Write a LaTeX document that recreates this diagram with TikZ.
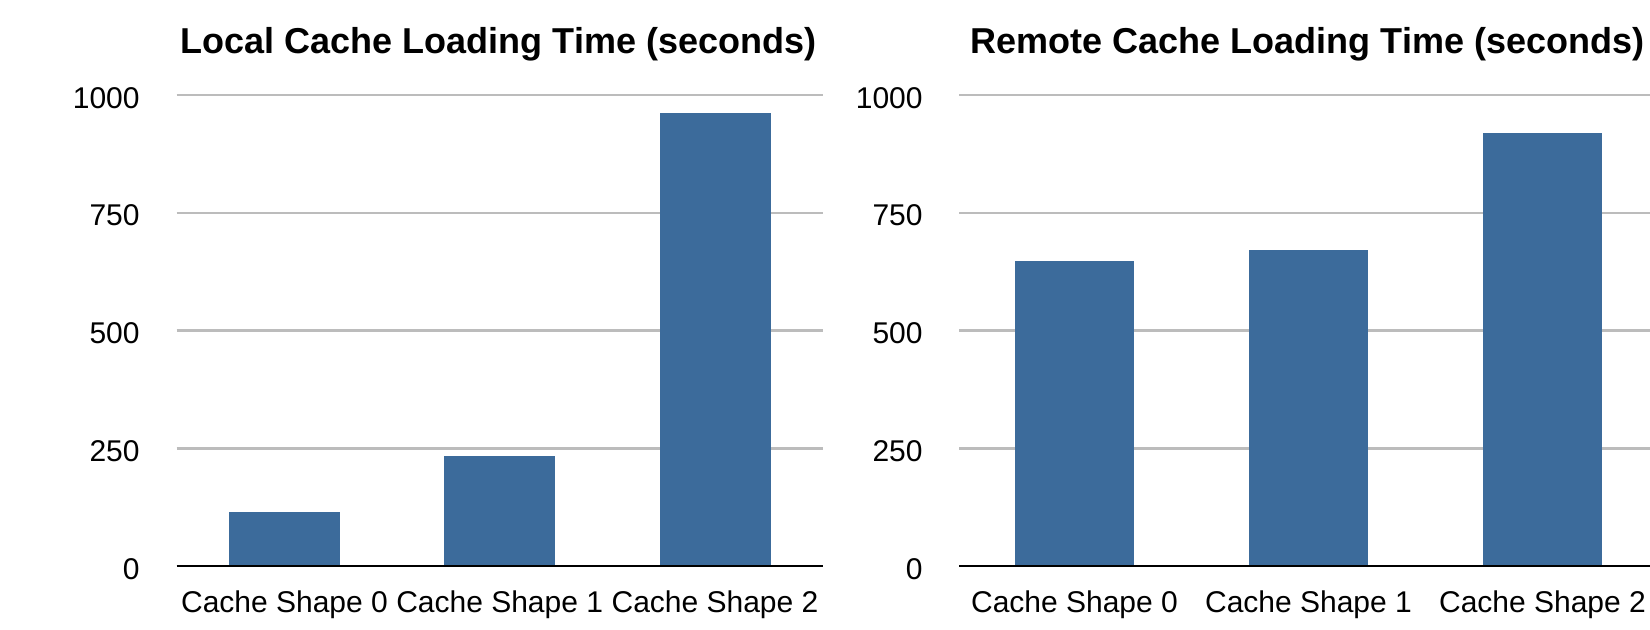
\documentclass[tikz,border=0pt]{standalone}
\usepackage{fontspec}
\setmainfont{Liberation Sans}
\definecolor{barblue}{RGB}{60,107,155}
\definecolor{gridgray}{RGB}{188,188,188}
\begin{document}
\begin{tikzpicture}[x=0.5pt,y=-0.5pt,
  gridline/.style={draw=gridgray,line width=1.25pt},
  axisline/.style={draw=black,line width=1.3pt},
  bar/.style={fill=barblue},
  ticklbl/.style={anchor=base east,inner sep=0pt,font=\fontsize{15}{18}\selectfont},
  catlbl/.style={anchor=base,inner sep=0pt,font=\fontsize{15}{18}\selectfont},
  charttitle/.style={anchor=base,inner sep=0pt,font=\fontsize{18}{22}\selectfont\bfseries}]
\useasboundingbox (0,0) rectangle (1650,629);
% value v sits at y = 566 - 0.471 v

% ---- Local cache chart ----
\node[charttitle] (ltitle) at (498.5,53) {Local Cache Loading Time (seconds)};
\foreach \v in {250,500,750,1000}
  \draw[gridline] (176.7,{566-0.471*\v}) -- (822.7,{566-0.471*\v});
\foreach \v in {0,250,500,750,1000}
  \node[ticklbl] (lt\v) at (140,{579-0.471*\v}) {\v};
\fill[bar] (229,566) rectangle (340,{566-0.471*114.6});
\fill[bar] (444.2,566) rectangle (555.2,{566-0.471*233.5});
\fill[bar] (659.5,566) rectangle (770.5,{566-0.471*961.8});
\draw[axisline] (176.7,566) -- (822.7,566);
\node[catlbl] (lc0) at (284.5,612) {Cache Shape 0};
\node[catlbl] (lc1) at (499.7,612) {Cache Shape 1};
\node[catlbl] (lc2) at (715,612) {Cache Shape 2};

% ---- Remote cache chart ----
\node[charttitle] (rtitle) at (1307.5,53) {Remote Cache Loading Time (seconds)};
\foreach \v in {250,500,750,1000}
  \draw[gridline] (959.3,{566-0.471*\v}) -- (1650,{566-0.471*\v});
\foreach \v in {0,250,500,750,1000}
  \node[ticklbl] (rt\v) at (923,{579-0.471*\v}) {\v};
\fill[bar] (1015,566) rectangle (1134,{566-0.471*647.6});
\fill[bar] (1249,566) rectangle (1368,{566-0.471*670.9});
\fill[bar] (1483,566) rectangle (1602,{566-0.471*919.3});
\draw[axisline] (959.3,566) -- (1650,566);
\node[catlbl] (rc0) at (1074.5,612) {Cache Shape 0};
\node[catlbl] (rc1) at (1308.5,612) {Cache Shape 1};
\node[catlbl] (rc2) at (1542.5,612) {Cache Shape 2};
\end{tikzpicture}
\end{document}
